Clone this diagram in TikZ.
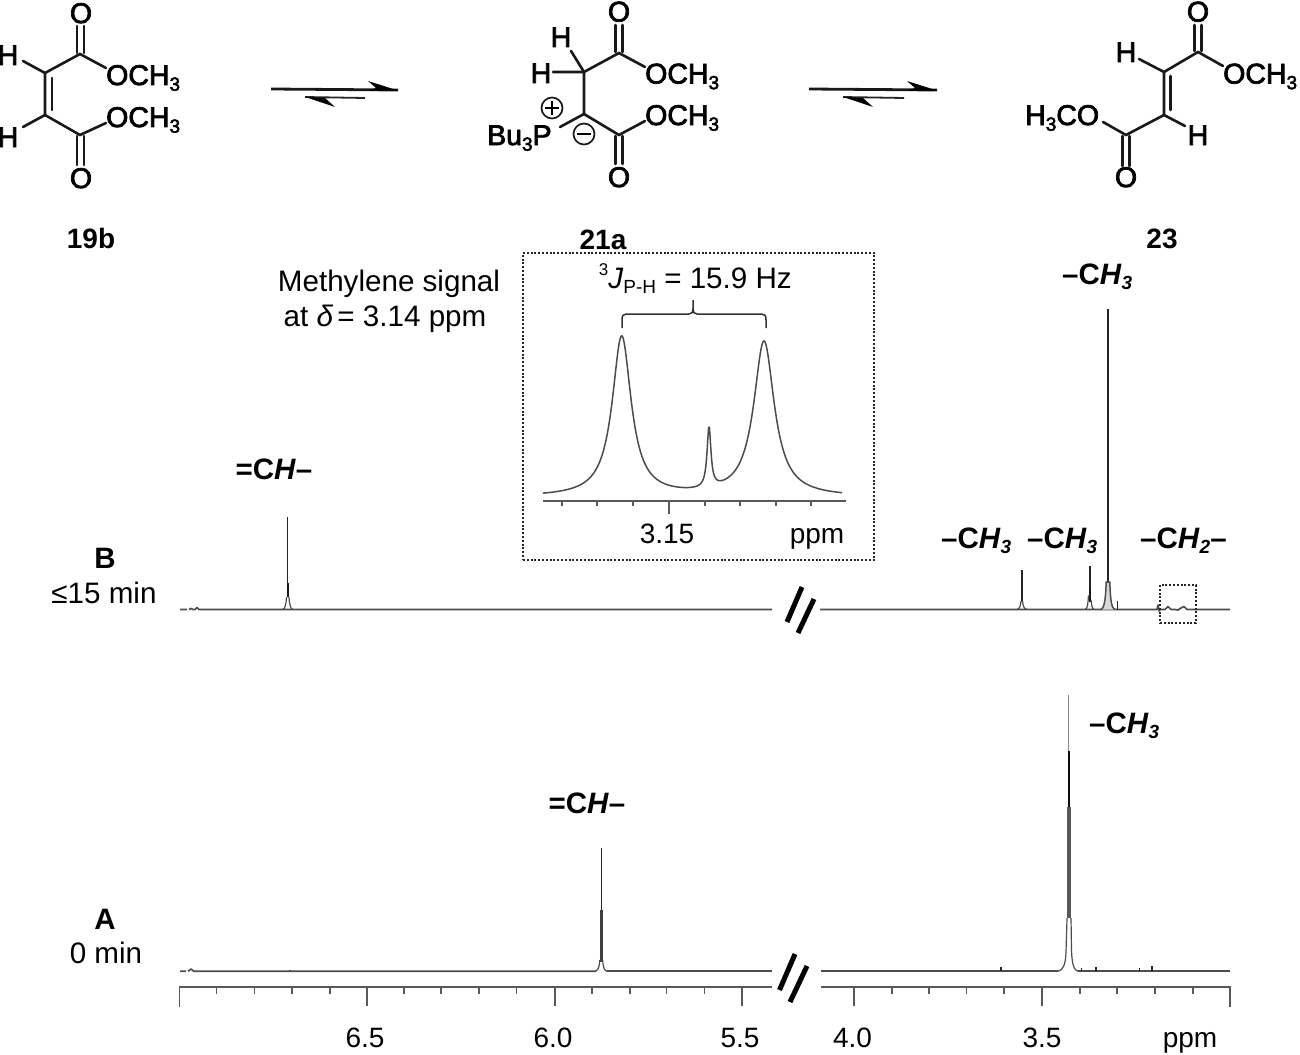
\documentclass[tikz,border=0pt]{standalone}
\usepackage{fontspec}
\setmainfont{Liberation Sans}
\newfontfamily\chemfont[FakeBold=2.6]{Liberation Sans}
\newcommand\lows[1]{\raisebox{-0.2em}{\fontsize{19}{19}\selectfont #1}}
\newcommand\highs[1]{\raisebox{0.42em}{\fontsize{17}{17}\selectfont #1}}
\tikzset{
  txt/.style={anchor=base,inner sep=0pt,font=\fontsize{28}{30}\selectfont},
  txtl/.style={txt,font=\fontsize{29.6}{31}\selectfont},
  atom/.style={anchor=base,inner sep=0pt,font=\fontsize{28.5}{30}\selectfont\chemfont},
  atomw/.style={atom,anchor=base west},
  lab/.style={txt,font=\fontsize{28}{30}\selectfont\bfseries},
  labp/.style={txt,font=\fontsize{29.5}{31}\selectfont\bfseries},
  labw/.style={labp,anchor=base west},
  bond/.style={draw=black!90,line width=2.6pt,line cap=round},
  spec/.style={draw=black!70,line width=1.7pt,line join=round},
  flank/.style={draw=black!70,line width=1.2pt},
  peak/.style={draw=black!85,line width=1.3pt},
  axisl/.style={draw=black!65,line width=1.6pt},
  slash/.style={draw=black,line width=5pt},
  dotbox/.style={draw=black!85,line width=2.4pt,dash pattern=on 2pt off 1.8pt},
  chg/.style={circle,draw=black!90,line width=1.7pt,minimum size=21pt,inner sep=0pt}
}
\begin{document}
\begin{tikzpicture}[x=1pt,y=-1pt]
\useasboundingbox (0,0) rectangle (1300,1054);
\fill[white] (0,0) rectangle (1300,1054);

%% ---- 19b
\coordinate (a1) at (45,73); \coordinate (a2) at (45,115);
\coordinate (a3) at (80,54); \coordinate (a4) at (80,135);
\coordinate (a5) at (106,68); \coordinate (a6) at (106,123);
\coordinate (a7) at (23,61); \coordinate (a8) at (23,127);
\node[atom] (h1) at (8,65) {H};
\node[atom] (h2) at (8,147) {H};
\node[atom] (o1) at (81,23) {O};
\node[atom] (o2) at (81,188) {O};
\node[atomw] (g1) at (106,85) {OCH\lows{3}};
\node[atomw] (g2) at (106,127) {OCH\lows{3}};
\draw[bond] (a7)--(a1)--(a2)--(a8);
\draw[bond] (a1)--(a3)--(a5);
\draw[bond] (a2)--(a4)--(a6);
\draw[bond] (52,78)--(52,110);
\draw[bond] (77,26)--(77,53) (84,26)--(84,53);
\draw[bond] (77,136)--(77,165) (84,136)--(84,165);
\node[lab] (n19) at (91,248) {19b};

%% ---- arrows
\coordinate (r1) at (271,89); \coordinate (r2) at (398,90);
\coordinate (r3) at (365,98); \coordinate (r4) at (305,97);
\draw[line width=2.8pt,black!90] (r1)--(r2);
\fill[black] (368,81)--(398,90.5)--(368,91)--(376,88)--cycle;
\draw[line width=1.8pt,black!85] (r3)--(r4);
\fill[black] (305,97)--(335,107)--(325,98)--cycle;
\coordinate (r5) at (809,89); \coordinate (r6) at (937,90);
\coordinate (r7) at (904,98); \coordinate (r8) at (843,97);
\draw[line width=2.8pt,black!90] (r5)--(r6);
\fill[black] (907,81)--(937,90.5)--(907,91)--(915,88)--cycle;
\draw[line width=1.8pt,black!85] (r7)--(r8);
\fill[black] (843,97)--(873,107)--(863,98)--cycle;

%% ---- 21a
\coordinate (b1) at (584,72); \coordinate (b2) at (584,114);
\coordinate (b3) at (619,53); \coordinate (b4) at (619,135);
\coordinate (b5) at (645,67); \coordinate (b6) at (645,121);
\coordinate (b7) at (571,51); \coordinate (b8) at (553,72);
\coordinate (b9) at (560,127);
\node[atom] (h3) at (561,47) {H};
\node[atom] (h4) at (541,83) {H};
\node[atom] (o3) at (619,21.5) {O};
\node[atom] (o4) at (619,187) {O};
\node[atomw] (g3) at (645,83.5) {OCH\lows{3}};
\node[atomw] (g4) at (645,125) {OCH\lows{3}};
\node[atomw] (bu) at (487,145) {Bu\lows{3}P};
\draw[bond] (b7)--(b1)--(b2)--(b9);
\draw[bond] (b8)--(b1)--(b3)--(b5);
\draw[bond] (b2)--(b4)--(b6);
\draw[bond] (615.5,25)--(615.5,52) (622.5,25)--(622.5,52);
\draw[bond] (615.5,136)--(615.5,164) (622.5,136)--(622.5,164);
\node[chg] (pl) at (552,108) {};
\draw[line width=1.7pt] (545,108)--(559,108) (552,101)--(552,115);
\node[chg] (mi) at (584,134) {};
\draw[line width=1.7pt] (577,134)--(591,134);
\node[lab] (n21) at (603,249) {21a};

%% ---- 23
\coordinate (c1) at (1164,72); \coordinate (c2) at (1164,115);
\coordinate (c3) at (1198,52); \coordinate (c4) at (1126,135);
\coordinate (c5) at (1223,66); \coordinate (c6) at (1103,122);
\coordinate (c7) at (1139,59); \coordinate (c8) at (1185,126);
\node[atom] (h5) at (1126,62) {H};
\node[atom] (h6) at (1198,145) {H};
\node[atom] (o5) at (1198,21.5) {O};
\node[atom] (o6) at (1126,187) {O};
\node[atomw] (g5) at (1223,83.5) {OCH\lows{3}};
\node[atomw] (g6) at (1025,125) {H\lows{3}CO};
\draw[bond] (c7)--(c1)--(c2)--(c8);
\draw[bond] (c1)--(c3)--(c5);
\draw[bond] (c2)--(c4)--(c6);
\draw[bond] (1170.5,76)--(1170.5,110);
\draw[bond] (1194.5,25)--(1194.5,51) (1201.5,25)--(1201.5,51);
\draw[bond] (1122.5,136)--(1122.5,166) (1129.5,136)--(1129.5,166);
\node[lab] (n23) at (1162,248) {23};

%% ---- side texts
\node[txtl] (m1) at (389,291) {Methylene signal};
\node[txtl] (m2) at (385,326) {at \textit{δ}\hspace{-4pt} = 3.14 ppm};

%% ---- inset
\node[dotbox,rectangle,inner sep=0pt,minimum width=351pt,minimum height=307pt] (boxa) at (698.5,406.5) {};
\node[txtl,anchor=base east] (jj) at (792,288) {\highs{3}\textit{J}\lows{P-H} = 15.9 Hz};
\draw[draw=black!80,line width=1.5pt]
  (622,328)--(622,320) .. controls (622,316) and (623,314) .. (626,314) --(689,314)
  .. controls (692,314) and (693,312) .. (693,309) -- (693,300)
  (693,309) .. controls (693,312) and (694,314) .. (697,314) -- (762,314)
  .. controls (765,314) and (766,316) .. (766,320) -- (766,328);
\draw[draw=black!70,line width=1.5pt,line join=round] plot[domain=543:842,samples=400]
  (\x,{497-160/(1+((\x-621.7)/11.5)^2)-155/(1+((\x-764)/12.5)^2)-61/(1+((\x-709)/2.3)^2)});
\draw[axisl] (543,500.7)--(846,500.7);
\foreach \t in {562,597,633,705,740,776,811} \draw[axisl] (\t,500.7)--(\t,506);
\draw[axisl] (669,500.7)--(669,514);
\node[txt] (t315) at (667,543) {3.15};
\node[txt] (tppm) at (817,543) {ppm};

%% ---- spectrum B
\draw[spec] (180,609.5)--(187,609.5) (189,609.5)--(191,608.5)--(193,609.5)--(195,609.5)--(197,607.5)--(199,609.5)--(772,609.5);
\draw[spec] (820,609.5)--(1157,609.5)--(1158,605)--(1159,611)--(1160,609.5)--(1165,609.5)--(1168,606.5)--(1171,609.5)--(1175,609.5)--(1178,610)--(1181,608)--(1184,606.5)--(1187,609.5)--(1230,609.5);
% 19b peak
\draw[peak] (287.7,517)--(287.7,583);
\draw[line width=2.4pt,black!90] (287.7,583)--(287.7,597);
\draw[flank] (282.5,609.5) .. controls (285,609) and (286,605) .. (286.5,597) (293,609.5) .. controls (290.5,609) and (289.5,605) .. (289,597);
% peaks at right
\draw[line width=1.9pt,black!85] (1021.7,570)--(1021.7,602);
\draw[flank] (1017,609.5) .. controls (1020,609) and (1020.5,605) .. (1021,601) (1027,609.5) .. controls (1023.5,609) and (1023,605) .. (1022.5,601);
\draw[peak] (1090,565.7)--(1090,588);
\draw[line width=1.9pt,black!90] (1090.3,588)--(1090.3,602);
\draw[flank] (1085,609.5) .. controls (1087.5,609) and (1088,604) .. (1088.4,596)--(1089.5,596) (1094,609.5) .. controls (1092,609) and (1091.5,604) .. (1091,600);
\draw[peak] (1108,309)--(1108,464);
\draw[line width=2.8pt,black!85] (1108,464)--(1108,582);
\draw[flank,line width=1.5pt,fill=black!15] (1101,609.5) .. controls (1103.5,608) and (1105.5,604) .. (1106.2,582)--(1109.8,582) .. controls (1110.5,604) and (1112,608) .. (1115,609.5);
\draw[peak] (1117.5,601)--(1117.5,609.5);
\draw[dotbox] (1160,585) rectangle (1196,623);
\draw[slash] (787,622)--(802,587);
\draw[slash] (798,633)--(814,599);

%% ---- spectrum A
\draw[spec] (180,971.3)--(186,971.3) (188,971.3)--(191,969)--(194,971.3)--(596,971.3);
\draw[spec] (290,971.3)--(290,970);
\draw[peak] (601.2,848)--(601.2,910);
\draw[line width=2.6pt,black!75] (601.2,910)--(601.2,962);
\draw[flank] (595,971.3) .. controls (598,970.5) and (599.3,968) .. (599.7,960) (607,971.3) .. controls (604.5,970.5) and (603.1,968) .. (602.7,960);
\draw[spec] (607,971.3)--(772,971.3);
\draw[spec] (821,971.3)--(1058,971.3);
\draw[spec] (1078,971.3)--(1230,971.3);
\draw[line width=1.3pt,black!45] (1068.7,695)--(1068.7,751);
\draw[line width=1.8pt,black!95] (1069,751)--(1069,807);
\draw[line width=3.8pt,black!65] (1068.7,807)--(1068.7,918);
\draw[flank] (1058,971.3) .. controls (1063,970) and (1065.5,965) .. (1066,952)--(1067,918);
\draw[flank] (1071,918)--(1071.5,950) .. controls (1072,965) and (1074,970) .. (1078,971.3);
\draw[peak,line width=1.6pt] (1001,967)--(1001,971)  (1081.6,968)--(1081.6,971) (1096,967)--(1096,971) (1139.6,968)--(1139.6,971) (1152,965.5)--(1152,971);
\draw[slash] (779.5,990)--(795,954);
\draw[slash] (790,1002)--(807,966);

%% ---- axis
\draw[axisl] (179.5,1007)--(179.5,987)--(772,987);
\draw[axisl] (821,987)--(1230,987)--(1230,1007);
\foreach \t in {216.6,254.4,292,330,403.7,441,479,516.6,592,630,666.6,704.4,892,929,966.6,1004,1080,1117,1155,1193}
  \draw[axisl] (\t,987)--(\t,994);
\foreach \t in {367.2,554.8,741.7,853.7,1042}
  \draw[axisl] (\t,987)--(\t,1006);
\node[txt] (x65) at (365,1047) {6.5};
\node[txt] (x60) at (553,1047) {6.0};
\node[txt] (x55) at (740,1047) {5.5};
\node[txt] (x40) at (852.5,1047) {4.0};
\node[txt] (x35) at (1042,1047) {3.5};
\node[txt] (xpp) at (1190,1047) {ppm};

%% ---- trace labels
\node[labp] (lb) at (105,568) {B};
\node[txtl] (lb2) at (104,603) {≤15 min};
\node[labp] (la) at (105,929) {A};
\node[txtl] (la2) at (106,963) {0 min};
\node[labp] (p1) at (274,479) {=C\textit{H}–};
\node[labp] (p2) at (587,813) {=C\textit{H}–};
\node[labw] (p3) at (1062,284) {–C\textit{H}\lows{\textit{3}}};
\node[labw] (p4) at (941,548) {–C\textit{H}\lows{\textit{3}}};
\node[labw] (p5) at (1027,548) {–C\textit{H}\lows{\textit{3}}};
\node[labw] (p6) at (1140,548) {–C\textit{H}\lows{\textit{2}}–};
\node[labw] (p7) at (1089,733) {–C\textit{H}\lows{\textit{3}}};
\end{tikzpicture}
\end{document}
